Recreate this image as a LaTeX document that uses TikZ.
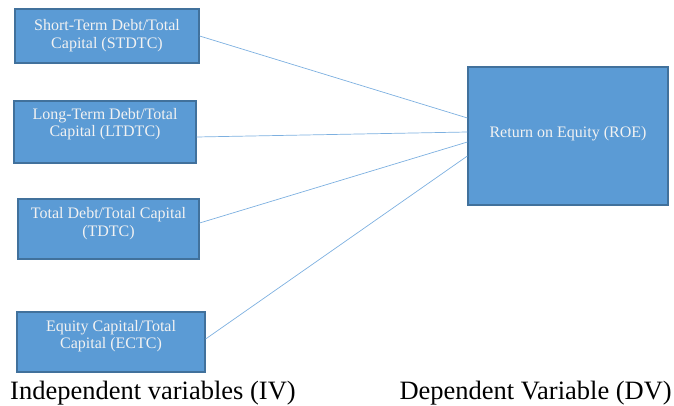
\documentclass[tikz,border=0pt]{standalone}
\usepackage{fontspec}
\setmainfont{Liberation Serif}
\usetikzlibrary{calc}
\definecolor{boxfill}{HTML}{5B9BD5}
\definecolor{boxline}{HTML}{41719C}
\definecolor{linkc}{HTML}{7DB0E0}
\definecolor{boxtxt}{HTML}{F2F2F2}
\tikzset{
  vbox/.style={draw=boxline, line width=1.2pt, fill=boxfill, inner sep=0pt},
  vtext/.style={text=boxtxt, align=center, font=\fontsize{16}{17.5}\selectfont, inner sep=0pt},
  link/.style={draw=linkc, line width=0.7pt},
  caption/.style={font=\fontsize{26.5}{30}\selectfont, anchor=base west, inner sep=0pt}
}
\begin{document}
\begin{tikzpicture}[x=1pt,y=1pt]
\useasboundingbox (0,0) rectangle (674,405);
\node[vbox, minimum width=184pt, minimum height=54pt] (b1) at (107,369) {};
\node[vtext] (t1) at (107,369.5) {Short-Term Debt/Total\\Capital (STDTC)};
\node[vbox, minimum width=182pt, minimum height=62pt] (b2) at (105,273) {};
\node[vtext] (t2) at (105,281) {Long-Term Debt/Total\\Capital (LTDTC)};
\node[vbox, minimum width=181pt, minimum height=60pt] (b3) at (108.5,176) {};
\node[vtext] (t3) at (108.5,181.5) {Total Debt/Total Capital\\(TDTC)};
\node[vbox, minimum width=188pt, minimum height=60pt] (b4) at (111,63) {};
\node[vtext] (t4) at (111,69) {Equity Capital/Total\\Capital (ECTC)};
\node[vbox, minimum width=200pt, minimum height=138pt] (roe) at (568,269) {};
\node[vtext] (troe) at (568,271) {Return on Equity (ROE)};
\coordinate (e1) at ($(roe.west)+(0,18)$);
\coordinate (e2) at ($(roe.west)+(0,4)$);
\coordinate (e3) at ($(roe.west)+(0,-6)$);
\coordinate (e4) at ($(roe.west)+(0,-20)$);
\coordinate (s2) at ($(b2.east)+(0,-5)$);
\coordinate (s3) at ($(b3.east)+(0,6)$);
\coordinate (s4) at ($(b4.east)+(0,3)$);
\draw[link] (b1.east) -- (e1);
\draw[link] (s2) -- (e2);
\draw[link] (s3) -- (e3);
\draw[link] (s4) -- (e4);
\node[caption] (c1) at (10,6) {Independent variables (IV)};
\node[caption, anchor=base east] (c2) at (672,6) {Dependent Variable (DV)};
\end{tikzpicture}
\end{document}
